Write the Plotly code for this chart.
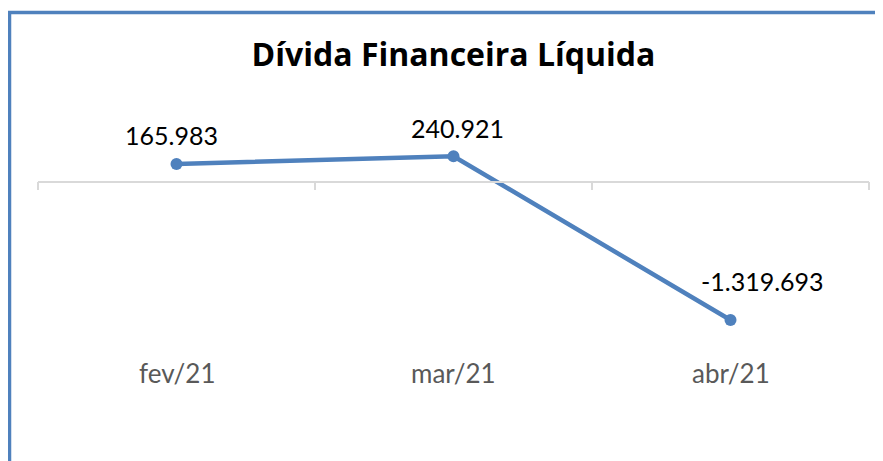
import plotly.graph_objects as go

# ---- data ----
categories = ["fev/21", "mar/21", "abr/21"]
values = [165983, 240921, -1319693]
title_text = "Dívida Financeira Líquida"

def fmt_br(v):
    return f"{v:,}".replace(",", ".")

labels = [fmt_br(v) for v in values]

# ---- styling ----
LINE_COLOR = "#4F81BD"
AXIS_COLOR = "#D9D9D9"
FONT = "Lato"
OFF = 8  # default page body margin in the exported html

W, H = 883, 461 - OFF
# target pixel positions in the window, converted to figure coords
PL, PR = 38 - OFF, 869 - OFF
PT, PB = 20 - OFF, 441 - OFF
M_L, M_R, M_T, M_B = PL, W - PR, PT, H - PB
plot_w = PR - PL
plot_h = PB - PT
ZERO_PX = 181.5 - OFF
PX_PER_UNIT = 1 / 9524.0
Y_MAX = (ZERO_PX - PT) / PX_PER_UNIT
Y_MIN = -(PB - ZERO_PX) / PX_PER_UNIT
zero_pos = -Y_MIN / (Y_MAX - Y_MIN)

fig = go.Figure()
fig.add_trace(go.Scatter(
    x=categories, y=values, mode="lines+markers",
    line=dict(color=LINE_COLOR, width=4.5),
    marker=dict(color=LINE_COLOR, size=12),
    hoverinfo="skip", showlegend=False,
))

# data labels
xshifts = [-5, 4, 32]
yshifts = [29, 28, 39]
for c, v, t, dx, dy in zip(categories, values, labels, xshifts, yshifts):
    fig.add_annotation(x=c, y=v, text=t, showarrow=False, xshift=dx, yshift=dy,
                       xanchor="center", yanchor="middle",
                       font=dict(family=FONT, size=25, color="#000000"))

# category labels placed low (Excel "low" label position)
label_y = (PB - (373 - OFF)) / plot_h
for c in categories:
    fig.add_annotation(x=c, y=label_y, yref="paper", text=c, showarrow=False,
                       xanchor="center", yanchor="middle",
                       font=dict(family=FONT, size=26, color="#595959"))

# chart border (partially cropped on right and bottom)
bx0 = (9.5 - OFF - PL) / plot_w
bx1 = (W + 20 - PL) / plot_w
by1 = (PB - (12.5 - OFF)) / plot_h
by0 = (PB - (H + 20)) / plot_h
fig.add_shape(type="rect", xref="paper", yref="paper",
              x0=bx0, x1=bx1, y0=by0, y1=by1,
              line=dict(color=LINE_COLOR, width=3.5), fillcolor="rgba(0,0,0,0)",
              layer="above")

fig.update_layout(
    width=W, height=H,
    margin=dict(l=M_L, r=M_R, t=M_T, b=M_B, pad=0),
    paper_bgcolor="white", plot_bgcolor="white",
    title=dict(text=f"<b>{title_text}</b>", x=0.5, xref="paper", xanchor="center",
               y=1 - (55 - OFF) / H, yref="container", yanchor="middle",
               font=dict(family="Open Sans", size=32, color="#000000")),
    xaxis=dict(type="category", range=[-0.5, 2.5], anchor="free", position=zero_pos,
               showline=True, linecolor=AXIS_COLOR, linewidth=1.5,
               ticks="outside", tickson="boundaries", ticklen=8, tickcolor=AXIS_COLOR,
               tickwidth=1.5, showticklabels=False, showgrid=False, zeroline=False),
    yaxis=dict(range=[Y_MIN, Y_MAX], visible=False, showgrid=False, zeroline=False),
)

fig.write_html("out.html")
